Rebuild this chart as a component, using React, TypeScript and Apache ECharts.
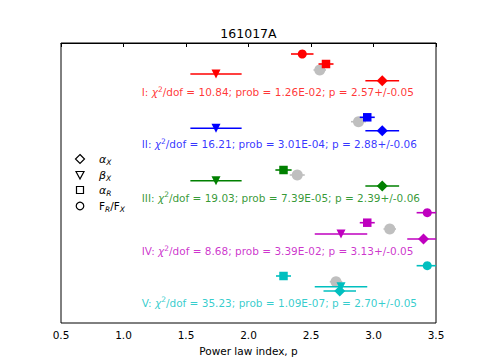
import React, { useEffect, useRef } from "react";
import * as echarts from "echarts";

// ---------- data ----------
const groupNames = ["I", "II", "III", "IV", "V"];
const chi2dof = ["10.84", "16.21", "19.03", "8.68", "35.23"];
const probs = ["1.26E-02", "3.01E-04", "7.39E-05", "3.39E-02", "1.09E-07"];
const fitP = [2.57, 2.88, 2.39, 3.13, 2.7];
const fitErr = [0.05, 0.06, 0.06, 0.05, 0.05];
const fitRows = [27, 78.7, 132, 186, 238.7];

// alpha_X (diamonds)
const alphaXValues = [3.07, 3.07, 3.07, 3.4, 2.73];
const alphaXErrors = [0.135, 0.135, 0.135, 0.13, 0.13];
const alphaXRows = [37.7, 87.7, 143, 196, 248];
const alphaXGroups = [0, 1, 2, 3, 4];

// beta_X (down triangles)
const betaXValues = [1.74, 1.74, 1.74, 2.74, 2.74];
const betaXErrors = [0.205, 0.205, 0.205, 0.21, 0.21];
const betaXRows = [31, 85.3, 137.7, 191, 243.7];
const betaXGroups = [0, 1, 2, 3, 4];

// alpha_R (squares)
const alphaRValues = [2.62, 2.95, 2.28, 2.95, 2.28];
const alphaRErrors = [0.06, 0.06, 0.065, 0.06, 0.06];
const alphaRRows = [21, 74.3, 127, 179.7, 233];
const alphaRGroups = [0, 1, 2, 3, 4];

// F_R/F_X (circles)
const fRatioValues = [2.43, 3.43, 3.43];
const fRatioErrors = [0.09, 0.085, 0.085];
const fRatioRows = [11, 169.7, 222.7];
const fRatioGroups = [0, 3, 4];

// annotation rows
const textRows = [49.3, 101, 154.7, 208, 259.7];
const textX = 1.146;

const xTicks = [0.5, 1.0, 1.5, 2.0, 2.5, 3.0, 3.5];

// ---------- styles ----------
const COLORS = ["#ff0000", "#0000ff", "#008000", "#bf00bf", "#00bfbf"];
const GRAY = "#bfbfbf";
const FONT = "DejaVu Sans";
const FS = 10.5;

function build(values: number[], rows: number[], errs: number[], groups: number[]) {
  return values.map((v, i) => [v, rows[i], errs[i], groups[i]]);
}

function errorSeries(data: number[][], colorFn: (g: number) => string, z: number) {
  return {
    type: "custom",
    data,
    z,
    clip: true,
    encode: { x: 0, y: 1 },
    renderItem: (params: any, api: any) => {
      const x = api.value(0);
      const y = api.value(1);
      const e = api.value(2);
      const g = api.value(3);
      const p1 = api.coord([x - e, y]);
      const p2 = api.coord([x + e, y]);
      return {
        type: "line",
        shape: { x1: p1[0], y1: p1[1], x2: p2[0], y2: p2[1] },
        style: { stroke: colorFn(g), lineWidth: 1.6 },
      };
    },
  };
}

function markerSeries(
  data: number[][],
  symbol: string,
  size: number,
  colorFn: (g: number) => string,
  z: number,
  rotate = 0
) {
  return {
    type: "scatter",
    data,
    z,
    symbol,
    symbolSize: size,
    symbolRotate: rotate,
    itemStyle: { color: (p: any) => colorFn(p.value[3]), opacity: 1 },
    emphasis: { disabled: true },
  };
}

export default function App() {
  const ref = useRef<HTMLDivElement>(null);

  useEffect(() => {
    if (!ref.current) return;
    const chart = echarts.init(ref.current, undefined, { renderer: "svg" });
    const groupColor = (g: number) => COLORS[g];
    const grayColor = () => GRAY;

    const fitData = build(fitP, fitRows, fitErr, [0, 1, 2, 3, 4]);
    const axData = build(alphaXValues, alphaXRows, alphaXErrors, alphaXGroups);
    const bxData = build(betaXValues, betaXRows, betaXErrors, betaXGroups);
    const arData = build(alphaRValues, alphaRRows, alphaRErrors, alphaRGroups);
    const frData = build(fRatioValues, fRatioRows, fRatioErrors, fRatioGroups);

    const textData = textRows.map((r, i) => [textX, r, i]);
    const rich: any = {};
    COLORS.forEach((c, i) => {
      rich["t" + i] = { color: c, fontSize: FS, fontFamily: FONT, lineHeight: 14 };
      rich["c" + i] = { color: c, fontSize: FS, fontFamily: FONT, fontStyle: "italic", lineHeight: 14 };
      rich["s" + i] = { color: c, fontSize: 7.5, fontFamily: FONT, verticalAlign: "top", lineHeight: 9 };
    });

    const option: any = {
      animation: false,
      grid: {
        left: 61,
        right: 49,
        top: 43,
        bottom: 41,
        show: true,
        borderColor: "#000",
        borderWidth: 1,
        backgroundColor: "transparent",
      },
      xAxis: {
        type: "value",
        min: 0.5,
        max: 3.5,
        interval: 0.5,
        name: "Power law index, p",
        nameLocation: "middle",
        nameGap: 22,
        nameTextStyle: { color: "#000", fontSize: FS, fontFamily: FONT, verticalAlign: "top" },
        axisLine: { show: true, lineStyle: { color: "#000", width: 1 } },
        axisTick: { show: true, inside: false, length: 4, lineStyle: { color: "#000" } },
        axisLabel: {
          color: "#000",
          fontSize: FS,
          fontFamily: FONT,
          margin: 6,
          formatter: (v: number) => (xTicks.includes(v) ? v.toFixed(1) : ""),
        },
        splitLine: { show: false },
      },
      yAxis: {
        type: "value",
        min: 0,
        max: 280,
        inverse: true,
        show: true,
        axisLine: { show: false },
        axisTick: { show: false },
        axisLabel: { show: false },
        splitLine: { show: false },
      },
      graphic: [
        {
          type: "text",
          x: 248.5,
          y: 33,
          style: {
            text: "161017A",
            fill: "#000",
            fontSize: 12.5,
            fontFamily: FONT,
            align: "center",
            verticalAlign: "middle",
          },
        },
        // legend markers
        {
          type: "polygon",
          shape: { points: [[80, 154.5], [84.5, 159], [80, 163.5], [75.5, 159]] },
          style: { fill: "#fff", stroke: "#000", lineWidth: 1.2 },
        },
        {
          type: "polygon",
          shape: { points: [[76, 171.5], [84, 171.5], [80, 179]] },
          style: { fill: "#fff", stroke: "#000", lineWidth: 1.2 },
        },
        {
          type: "rect",
          shape: { x: 76.5, y: 186.5, width: 7, height: 7 },
          style: { fill: "#fff", stroke: "#000", lineWidth: 1.2 },
        },
        {
          type: "circle",
          shape: { cx: 80, cy: 206, r: 3.8 },
          style: { fill: "#fff", stroke: "#000", lineWidth: 1.2 },
        },
        // legend labels
        ...[
          ["{g|α}{s|X}", 159],
          ["{g|β}{s|X}", 175],
          ["{g|α}{s|R}", 190],
          ["{n|F}{s|R}{n|/F}{s|X}", 206],
        ].map(([t, y]) => ({
          type: "text",
          x: 99,
          y: y as number,
          style: {
            text: t as string,
            fill: "#000",
            verticalAlign: "middle",
            rich: {
              g: { fontSize: 11, fontFamily: FONT, fontStyle: "italic", fill: "#000", lineHeight: 14 },
              n: { fontSize: FS, fontFamily: FONT, fill: "#000", lineHeight: 14 },
              s: {
                fontSize: 7.5,
                fontFamily: FONT,
                fontStyle: "italic",
                fill: "#000",
                verticalAlign: "bottom",
                lineHeight: 10,
              },
            },
          },
        })),
      ],
      series: [
        errorSeries(fitData, grayColor, 1),
        markerSeries(fitData, "circle", 11, grayColor, 2),
        errorSeries(frData, groupColor, 3),
        errorSeries(arData, groupColor, 3),
        errorSeries(bxData, groupColor, 3),
        errorSeries(axData, groupColor, 3),
        markerSeries(frData, "circle", 9, groupColor, 4),
        markerSeries(arData, "rect", 8.5, groupColor, 4),
        markerSeries(bxData, "triangle", 9, groupColor, 4, 180),
        markerSeries(axData, "diamond", 11, groupColor, 5),
        {
          type: "scatter",
          data: textData,
          symbolSize: 0,
          z: 6,
          silent: true,
          label: {
            show: true,
            position: "right",
            distance: 0,
            formatter: (p: any) => {
              const i = p.value[2];
              return (
                `{t${i}|${groupNames[i]}: }{c${i}|χ}{s${i}|2}{t${i}|/dof = ${chi2dof[i]}; prob = ${probs[i]}; ` +
                `p = ${fitP[i].toFixed(2)}+/-${fitErr[i].toFixed(2)}}`
              );
            },
            rich,
          },
        },
      ],
    };
    chart.setOption(option);
    return () => chart.dispose();
  }, []);

  return (
    <div
      ref={ref}
      style={{ position: "fixed", left: 0, top: 0, width: 485, height: 364, background: "#fff" }}
    />
  );
}
